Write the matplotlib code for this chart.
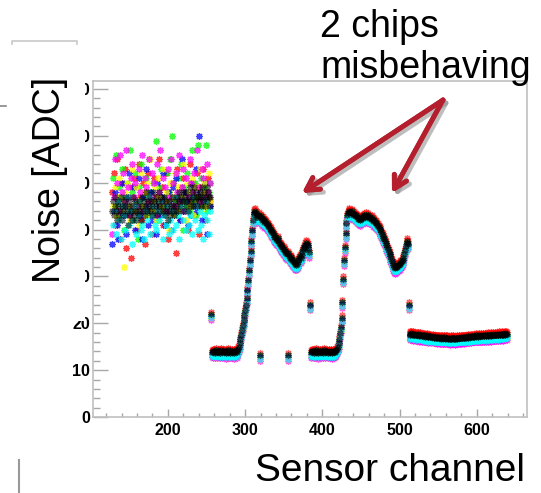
import numpy as np
import matplotlib
matplotlib.use('Agg')
import matplotlib.pyplot as plt
from matplotlib.patches import Rectangle
from matplotlib.lines import Line2D

plt.rcParams['font.family'] = ['Liberation Sans', 'DejaVu Sans']

# chip 1 (channels 128-255): noisy chip, black run at every channel
chip1_black = [
    44, 46, 43, 45, 47, 44, 42, 45, 46, 43, 44, 47, 45, 42, 44, 46,
    45, 43, 47, 44, 41, 45, 46, 43, 44, 42, 45, 47, 43, 44, 46, 42,
    44, 45, 43, 46, 44, 42, 45, 47, 44, 46, 43, 45, 48, 44, 46, 45,
    47, 44, 46, 43, 45, 48, 46, 44, 47, 45, 43, 46, 48, 45, 44, 47,
    46, 44, 45, 47, 43, 46, 44, 45, 42, 46, 44, 43, 45, 47, 44, 45,
    43, 46, 44, 45, 47, 44, 46, 48, 45, 47, 46, 44, 48, 46, 47, 45,
    48, 46, 44, 47, 49, 46, 45, 48, 47, 45, 49, 46, 47, 48, 45, 47,
    46, 48, 47, 45, 49, 47, 46, 48, 45, 47, 49, 46, 48, 47, 45, 47]

# colour runs on chip 1, read at every second channel
chip1_red = [48, 52, 41, 55, 44, 38, 50, 46, 53, 36, 47, 43, 34, 49, 51, 45,
             40, 54, 47, 42, 50, 37, 48, 52, 44, 46, 39, 51, 47, 43, 55, 45,
             49, 41, 46, 52, 38, 48, 44, 50, 47, 35, 53, 46, 42, 49, 51, 44,
             48, 40, 54, 46, 50, 43, 47, 52, 39, 49, 45, 53, 42, 48, 51, 46]
chip1_green = [51, 45, 56, 43, 49, 47, 53, 40, 46, 50, 44, 57, 48, 42, 52, 46,
               38, 49, 54, 45, 47, 51, 43, 55, 48, 44, 50, 46, 59, 42, 49, 53,
               45, 47, 41, 52, 48, 55, 60, 50, 46, 43, 51, 47, 54, 40, 49, 45,
               52, 48, 44, 57, 46, 50, 43, 58, 47, 51, 45, 49, 58, 44, 48, 50]
chip1_blue = [37, 44, 48, 41, 38, 46, 50, 43, 45, 39, 47, 52, 42, 44, 49, 40,
              46, 51, 43, 38, 47, 45, 53, 41, 44, 48, 42, 46, 39, 50, 45, 43,
              47, 52, 41, 44, 48, 46, 40, 49, 43, 51, 45, 47, 42, 55, 44, 48,
              46, 41, 50, 43, 47, 45, 53, 44, 60, 48, 42, 46, 50, 39, 47, 45]
chip1_yellow = [45, 49, 43, 47, 51, 44, 46, 32, 48, 50, 45, 42, 53, 47, 44, 49,
                46, 41, 52, 45, 48, 43, 50, 47, 55, 44, 46, 49, 42, 51, 47, 45,
                53, 44, 48, 46, 40, 50, 47, 43, 52, 45, 49, 44, 47, 54, 46, 42,
                50, 48, 45, 51, 43, 47, 49, 46, 53, 44, 48, 50, 45, 47, 52, 46]
chip1_magenta = [39, 47, 55, 50, 44, 56, 48, 52, 46, 57, 49, 43, 51, 54, 47, 50,
                 45, 53, 48, 56, 44, 51, 49, 46, 55, 47, 52, 50, 43, 54, 48, 57,
                 46, 51, 49, 44, 53, 47, 55, 50, 45, 52, 48, 56, 46, 49, 53, 44,
                 51, 47, 55, 50, 48, 52, 45, 57, 49, 46, 53, 51, 47, 54, 48, 50]
chip1_cyan = [41, 44, 39, 46, 42, 38, 45, 43, 40, 47, 41, 44, 37, 42, 45, 39,
              43, 46, 40, 41, 38, 44, 42, 47, 39, 43, 45, 41, 40, 44, 42, 46,
              38, 43, 41, 45, 39, 42, 44, 40, 47, 41, 43, 38, 45, 42, 46, 40,
              44, 41, 43, 39, 47, 42, 45, 40, 44, 41, 38, 43, 46, 42, 39, 44]

# chip 2 (channels 256-383), black run
chip2_black = [
    22.0,
    13.9, 14.1, 13.8, 14.0, 13.7, 14.2, 13.9, 13.8, 14.1, 13.9, 14.0, 13.7,
    14.2, 13.8, 14.0, 13.9, 14.1, 13.8, 13.6, 14.0, 13.9, 14.2, 13.8, 14.0,
    13.7, 13.9, 14.1, 13.8, 14.0, 13.6, 13.9, 14.1, 13.8, 14.3,
    14.6, 15.0, 15.7, 16.6, 17.6, 18.6, 19.6, 20.6, 21.7, 22.8, 24.0, 25.3,
    27.2, 29.2, 31.3, 33.4, 35.5, 37.6, 39.8, 42.0,
    43.3, 43.8, 44.0, 43.5, 43.0, 42.6, 42.8, 43.2, 13.2, 42.9, 42.4, 42.0,
    42.3, 42.0, 41.6, 41.8, 41.5, 41.2, 41.0, 40.8, 40.5, 40.2, 40.0,
    39.6, 39.5, 39.2, 38.8, 38.5, 38.4, 38.0, 37.8, 38.2, 37.6, 37.2, 36.9,
    36.5, 36.6, 36.2, 35.8, 35.9, 35.5, 35.2, 35.0, 34.7, 13.2, 35.0, 34.4,
    34.0, 33.8, 34.1, 33.5, 33.2, 33.0, 32.6, 32.8, 32.5, 32.7,
    33.0, 33.4, 33.9, 34.3, 34.0, 34.6, 35.2, 35.8, 36.3, 36.0, 36.8, 37.2,
    37.0, 36.6, 35.8, 35.2]

# chip 3 (channels 384-511), black run
chip3_black = [
    24.0,
    13.8, 14.0, 13.9, 14.1, 13.7, 14.0, 13.8, 14.2, 13.9, 14.0, 13.6, 13.9,
    14.1, 13.8, 14.0, 13.9, 13.7, 14.2, 13.8, 14.0, 13.9, 14.1, 13.7, 13.9,
    14.0, 13.8, 14.1, 13.9, 13.6, 14.0, 13.8, 14.1, 13.9, 14.3,
    14.6, 15.0, 15.8, 16.7, 17.9, 19.2, 21.2, 24.5, 29.5, 33.5, 36.3, 39.2,
    41.5, 43.0,
    43.5, 43.8, 44.0, 43.7, 43.5, 43.9, 43.6, 43.2, 43.4, 43.0, 42.8, 43.1,
    42.6, 42.3, 42.5, 42.2, 42.0, 42.3, 42.6, 42.4, 42.8, 43.0, 42.7, 42.9,
    43.2, 42.8, 43.0, 42.6, 42.4, 42.7, 42.3, 42.5, 42.1, 41.8, 42.0, 41.6,
    41.3, 41.5, 41.0, 40.8, 40.5, 40.2,
    39.8, 39.4, 39.0, 38.7, 38.3, 38.0, 37.6, 37.1, 36.7, 36.2, 35.8, 35.3,
    34.8, 34.3, 33.8, 33.3, 32.8, 32.4, 32.0, 31.8,
    32.0, 32.3, 32.1, 32.5, 32.4, 32.6, 32.9, 33.1, 33.3, 33.6, 34.0, 34.8,
    35.6, 36.4, 37.2, 37.6, 37.0]

# chip 4 (channels 512-639), black run
chip4_black = [
    24.0,
    17.8, 17.6, 17.9, 17.7, 17.5, 17.8, 17.6, 17.7, 17.4, 17.6, 17.5, 17.7, 17.3, 17.5, 17.6, 17.4,
    17.3, 17.5, 17.2, 17.4, 17.1, 17.3, 17.2, 17.4, 17.0, 17.2, 17.1, 17.3, 17.0, 17.1, 17.2, 16.9,
    17.1, 17.0, 16.9, 17.1, 16.8, 17.0, 16.9, 16.8, 17.0, 16.7, 16.9, 16.8, 17.0, 16.8, 16.7, 16.9,
    16.8, 16.9, 16.7, 16.8, 16.6, 16.9, 16.7, 16.8, 16.9, 16.7, 16.8, 16.6, 16.8, 16.9, 16.7, 16.8,
    16.9, 16.8, 17.0, 16.8, 16.9, 17.0, 16.8, 17.1, 16.9, 17.0, 17.1, 16.9, 17.2, 17.0, 17.1, 17.2,
    17.0, 17.2, 17.1, 17.3, 17.1, 17.2, 17.4, 17.2, 17.3, 17.1, 17.4, 17.3, 17.2, 17.5, 17.3, 17.4,
    17.3, 17.5, 17.4, 17.2, 17.5, 17.3, 17.6, 17.4, 17.5, 17.3, 17.6, 17.4, 17.7, 17.5, 17.4, 17.6,
    17.5, 17.7, 17.4, 17.6, 17.8, 17.5, 17.7, 17.6, 17.8, 17.5, 17.7, 17.9, 17.6, 17.8, 17.7]

# colour runs sit just above / below the black one on chips 2-4
run_colors = ['#ff0000', '#00ff00', '#0000ff', '#ffff00', '#ff00ff', '#00ffff']
run_offsets = [0.5, -0.2, -0.4, -1.1, -1.2, -0.9]

ch1 = np.arange(128, 256)
ch1_even = ch1[::2]
ch1_odd = ch1[1::2]
ch_rest = np.arange(256, 640)
rest_black = np.array(chip2_black + chip3_black + chip4_black)

chip1_runs = [(ch1_even, chip1_red), (ch1_odd, chip1_green), (ch1_even, chip1_blue),
              (ch1_odd, chip1_yellow), (ch1_even, chip1_magenta), (ch1_odd, chip1_cyan)]

W, H = 541, 493
fig = plt.figure(figsize=(W / 100, H / 100), dpi=100)
ax = fig.add_axes([93 / W, 1 - 417 / H, (527 - 93) / W, (417 - 81) / H])

mk = dict(marker=(8, 2, 0), ls='none', ms=5, mew=0.9)
for (xs, vals), c, off in zip(chip1_runs, run_colors, run_offsets):
    ax.plot(xs, vals, color=c, alpha=0.75, **mk)
    ax.plot(ch_rest, rest_black + off, color=c, alpha=0.6, **mk)
ax.plot(ch1, chip1_black, color='black', alpha=0.55, **mk)
ax.plot(ch_rest, rest_black, color='black', alpha=0.6, **mk)

ax.set_xlim(103, 665)
ax.set_ylim(0, 71.7)
ax.set_xticks([200, 300, 400, 500, 600])
ax.set_xticks(np.arange(120, 661, 20), minor=True)
ax.set_yticks(np.arange(0, 71, 10))
ax.set_yticks(np.arange(0, 72, 2), minor=True)
ax.tick_params(which='both', direction='in', color='#a8a8a8', width=1,
               top=False, right=False, labelsize=11.5)
ax.tick_params(axis='x', which='major', length=5.8, pad=4)
ax.tick_params(axis='x', which='minor', length=2.9)
ax.tick_params(axis='y', which='major', length=10.8, pad=2)
ax.tick_params(axis='y', which='minor', length=5)
for lab in ax.get_xticklabels() + ax.get_yticklabels():
    lab.set_fontweight('bold')
for s in ax.spines.values():
    s.set_color('#c0c0c0')
    s.set_linewidth(1.2)


def px(x, y):
    return x / W, 1 - y / H


# white box of the slide's axis title hides the first digit of the y labels
x0, y0 = px(20, 321)
fig.add_artist(Rectangle((x0, y0), 65 / W, (321 - 55) / H, transform=fig.transFigure,
                         facecolor='white', edgecolor='none', zorder=2))
fig.text(*px(50, 180), 'Noise [ADC]', rotation=90, ha='center', va='center',
         fontsize=27, zorder=3)
fig.text(*px(390, 481), 'Sensor channel', ha='center', va='baseline', fontsize=28)
fig.text(*px(320, 37), '2 chips', ha='left', va='baseline', fontsize=27)
fig.text(*px(320, 78), 'misbehaving', ha='left', va='baseline', fontsize=27)

# arrows (with a soft shadow like on the slide)
start = (443, 100)
for tip in [(302, 193), (392, 193)]:
    for dx, dy, col, a in [(3, 3, '#909090', 0.35), (0, 0, '#b41e2d', 1.0)]:
        fig.add_artist(plt.annotate(
            '', xy=px(tip[0] + dx, tip[1] + dy), xytext=px(start[0] + dx, start[1] + dy),
            xycoords='figure fraction', textcoords='figure fraction',
            arrowprops=dict(arrowstyle='->,head_length=0.9,head_width=0.5',
                            color=col, lw=3.5, alpha=a, shrinkA=0, shrinkB=0)))

# leftovers of the slide around the plot
fig.add_artist(Line2D([12 / W, 12 / W, 77 / W, 77 / W],
                      [1 - 44 / H, 1 - 41 / H, 1 - 41 / H, 1 - 44 / H],
                      transform=fig.transFigure, color='#c8c8c8', lw=1.2))
fig.add_artist(Line2D([0, 6 / W], [1 - 106 / H, 1 - 106 / H],
                      transform=fig.transFigure, color='#888888', lw=1.2))
fig.add_artist(Line2D([19 / W, 19 / W], [1 - 460 / H, 0],
                      transform=fig.transFigure, color='#999999', lw=1.5))

fig.savefig('out.png', dpi=100)
